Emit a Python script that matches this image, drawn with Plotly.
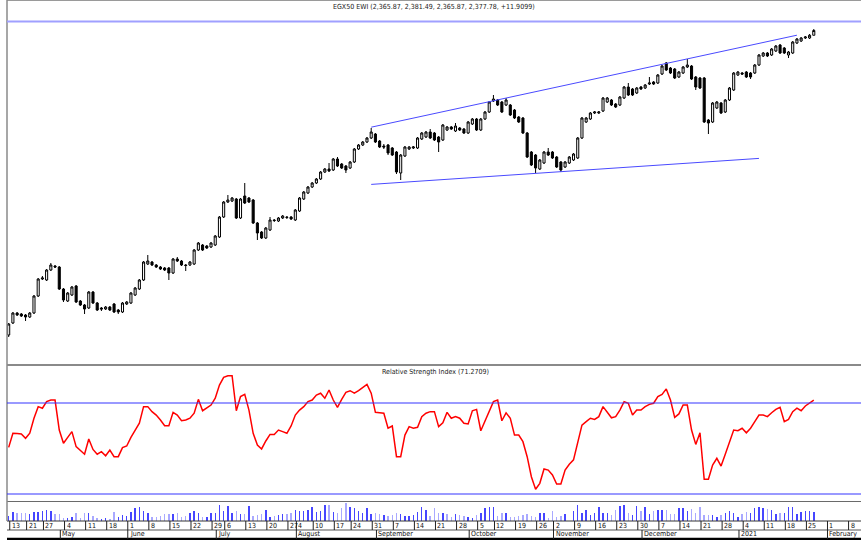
import numpy as np
import pandas as pd
import plotly.graph_objects as go

# ---------------- data ----------------
holidays = ["2020-04-17", "2020-04-20", "2020-05-25", "2020-05-26", "2020-05-27",
            "2020-05-28", "2020-05-29", "2020-06-30", "2020-07-03", "2020-07-29",
            "2020-07-30", "2020-07-31", "2020-08-03", "2020-08-20", "2020-10-06",
            "2020-10-29"]

opens = [
    1616.5, 1646.5, 1671.5, 1669, 1666.5, 1661.5, 1671.5, 1714, 1756.5, 1754,
    1779, 1789, 1786.5, 1731.5, 1701.5, 1716.5, 1739, 1701.5, 1691.5, 1684,
    1724, 1696.5, 1684, 1681.5, 1686.5, 1694, 1679, 1674, 1694, 1696.5,
    1716.5, 1731.5, 1754, 1794, 1799, 1791.5, 1786.5, 1784, 1784, 1771.5,
    1806.5, 1801.5, 1791.5, 1791.5, 1794, 1829, 1841.5, 1839, 1836.5, 1841.5,
    1861.5, 1911.5, 1949, 1951.5, 1956.5, 1909, 1964, 1959, 1954, 1896.5,
    1874, 1859, 1879, 1904, 1901.5, 1909, 1911.5, 1911.5, 1904, 1926.5,
    1956.5, 1971.5, 1986.5, 1996.5, 2006.5, 2024, 2031.5, 2029, 2056.5, 2044,
    2039, 2034, 2049, 2081.5, 2091.5, 2099, 2109, 2119, 2101.5, 2089,
    2091.5, 2084, 2074, 2021.5, 2064, 2081.5, 2084, 2084, 2106.5, 2111.5,
    2124, 2121.5, 2111.5, 2104, 2129, 2136.5, 2126.5, 2134, 2131.5, 2121.5,
    2144, 2156.5, 2129, 2156.5, 2174, 2201.5, 2204, 2199, 2191.5, 2191.5,
    2179, 2161.5, 2159, 2121.5, 2074, 2066.5, 2031.5, 2046.5, 2074, 2074,
    2061.5, 2049, 2036.5, 2046.5, 2054, 2059, 2109, 2149, 2156.5, 2171.5,
    2171.5, 2176.5, 2199, 2204, 2194, 2191.5, 2209, 2236.5, 2231.5, 2221.5,
    2236.5, 2234, 2244, 2249, 2246.5, 2269, 2296.5, 2284, 2281.5, 2261.5,
    2271.5, 2286.5, 2289, 2261.5, 2259, 2259, 2154, 2149, 2184, 2196.5,
    2174, 2204, 2229, 2266.5, 2271.5, 2274, 2271.5, 2271.5, 2291.5, 2314,
    2321.5, 2316.5, 2326.5, 2341.5, 2334, 2316.5, 2321.5, 2346.5, 2351.5, 2359,
    2359, 2365.87]

highs = [
    1646.5, 1674, 1674, 1671.5, 1669, 1674, 1716.5, 1759, 1764, 1781.5,
    1796.5, 1791.5, 1789, 1734, 1724, 1739, 1741.5, 1704, 1694, 1726.5,
    1726.5, 1699, 1686.5, 1689, 1689, 1696.5, 1681.5, 1699, 1701.5, 1724,
    1736.5, 1756.5, 1801.5, 1816.5, 1801.5, 1794, 1789, 1786.5, 1786.5, 1809,
    1811.5, 1804, 1794, 1801.5, 1831.5, 1849, 1844, 1841.5, 1849, 1866.5,
    1914, 1951.5, 1966.5, 1961.5, 1959, 1959, 1996.5, 1961.5, 1956.5, 1899,
    1876.5, 1886.5, 1911.5, 1906.5, 1911.5, 1916.5, 1914, 1914, 1931.5, 1961.5,
    1976.5, 1989, 1999, 2009, 2026.5, 2034, 2046.5, 2059, 2061.5, 2046.5,
    2041.5, 2051.5, 2084, 2094, 2101.5, 2111.5, 2134, 2121.5, 2104, 2094,
    2094, 2086.5, 2076.5, 2069, 2089, 2089, 2089, 2111.5, 2124, 2126.5,
    2131.5, 2124, 2114, 2144, 2139, 2139, 2146.5, 2136.5, 2134, 2151.5,
    2159, 2159, 2159, 2176.5, 2201.5, 2216.5, 2206.5, 2201.5, 2209, 2194,
    2181.5, 2164, 2161.5, 2124, 2076.5, 2069, 2056.5, 2076.5, 2084, 2076.5,
    2064, 2051.5, 2051.5, 2064, 2071.5, 2111.5, 2161.5, 2161.5, 2174, 2176.5,
    2176.5, 2211.5, 2211.5, 2206.5, 2196.5, 2214, 2239, 2246.5, 2234, 2236.5,
    2239, 2244, 2261.5, 2251.5, 2269, 2291.5, 2299, 2286.5, 2284, 2276.5,
    2289, 2306.5, 2291.5, 2264, 2261.5, 2261.5, 2156.5, 2199, 2201.5, 2199,
    2206.5, 2236.5, 2274, 2276.5, 2274, 2276.5, 2274, 2294, 2319, 2324,
    2324, 2334, 2341.5, 2344, 2336.5, 2326.5, 2351.5, 2359, 2361.5, 2364,
    2369, 2381.49]

lows = [
    1611.5, 1644, 1664, 1661.5, 1651.5, 1659, 1669, 1711.5, 1754, 1751.5,
    1776.5, 1784, 1729, 1699, 1699, 1714, 1696.5, 1689, 1669, 1681.5,
    1694, 1676.5, 1676.5, 1679, 1676.5, 1671.5, 1669, 1671.5, 1691.5, 1694,
    1714, 1729, 1751.5, 1791.5, 1789, 1784, 1779, 1776.5, 1754, 1769,
    1799, 1789, 1776.5, 1789, 1791.5, 1826.5, 1826.5, 1831.5, 1834, 1839,
    1859, 1909, 1946.5, 1949, 1906.5, 1906.5, 1944, 1946.5, 1894, 1854,
    1856.5, 1856.5, 1876.5, 1899, 1899, 1906.5, 1906.5, 1904, 1901.5, 1924,
    1954, 1969, 1984, 1994, 2004, 2021.5, 2024, 2026.5, 2036.5, 2031.5,
    2021.5, 2031.5, 2046.5, 2079, 2089, 2096.5, 2106.5, 2096.5, 2084, 2081.5,
    2066.5, 2064, 2019, 2004, 2061.5, 2079, 2081.5, 2081.5, 2104, 2109,
    2106.5, 2101.5, 2074, 2101.5, 2126.5, 2129, 2124, 2126.5, 2119, 2119,
    2141.5, 2126.5, 2126.5, 2154, 2171.5, 2199, 2189, 2171.5, 2189, 2164,
    2156.5, 2146.5, 2119, 2059, 2039, 2021.5, 2029, 2044, 2064, 2056.5,
    2034, 2024, 2034, 2044, 2051.5, 2056.5, 2106.5, 2146.5, 2154, 2169,
    2169, 2174, 2196.5, 2189, 2184, 2189, 2206.5, 2214, 2214, 2219,
    2229, 2231.5, 2241.5, 2241.5, 2244, 2266.5, 2276.5, 2269, 2256.5, 2259,
    2269, 2284, 2254, 2229, 2231.5, 2146.5, 2119, 2146.5, 2181.5, 2169,
    2171.5, 2201.5, 2226.5, 2264, 2266.5, 2259, 2256.5, 2269, 2289, 2311.5,
    2311.5, 2314, 2324, 2319, 2319, 2309, 2319, 2344, 2349, 2356.5,
    2356.5, 2365.87]

closes = [
    1644, 1671.5, 1666.5, 1664, 1661.5, 1671.5, 1714, 1756.5, 1759, 1779,
    1791.5, 1786.5, 1731.5, 1704, 1721.5, 1736.5, 1699, 1691.5, 1681.5, 1724,
    1696.5, 1679, 1681.5, 1686.5, 1679, 1674, 1674, 1696.5, 1699, 1721.5,
    1734, 1754, 1799, 1801.5, 1791.5, 1786.5, 1781.5, 1779, 1771.5, 1806.5,
    1801.5, 1791.5, 1790.25, 1799, 1829, 1846.5, 1829, 1834, 1846.5, 1864,
    1911.5, 1949, 1954, 1959, 1909, 1956.5, 1946.5, 1949, 1896.5, 1871.5,
    1859, 1884, 1904, 1902.75, 1909, 1914, 1910.25, 1906.5, 1929, 1959,
    1974, 1986.5, 1996.5, 2006.5, 2024, 2031.5, 2026.5, 2056.5, 2039, 2034,
    2029, 2049, 2081.5, 2091.5, 2099, 2109, 2124, 2099, 2086.5, 2086.5,
    2071.5, 2066.5, 2024, 2066.5, 2086.5, 2086.5, 2086.5, 2109, 2121.5, 2124,
    2109, 2104, 2099, 2141.5, 2136.5, 2131.5, 2139, 2129, 2121.5, 2149,
    2156.5, 2129, 2156.5, 2174, 2199, 2206.5, 2191.5, 2174, 2204, 2166.5,
    2159, 2149, 2121.5, 2061.5, 2041.5, 2034, 2054, 2074, 2066.5, 2059,
    2036.5, 2029, 2049, 2061.5, 2069, 2109, 2159, 2159, 2171.5, 2174,
    2174, 2209, 2209, 2191.5, 2186.5, 2211.5, 2236.5, 2216.5, 2216.5, 2234,
    2231.5, 2241.5, 2246.5, 2244, 2266.5, 2289, 2279, 2271.5, 2259, 2274,
    2286.5, 2291.5, 2256.5, 2236.5, 2234, 2149, 2146.5, 2196.5, 2199, 2171.5,
    2204, 2234, 2271.5, 2274, 2269, 2261.5, 2261.5, 2291.5, 2316.5, 2321.5,
    2314, 2331.5, 2339, 2321.5, 2321.5, 2324, 2349, 2356.5, 2359, 2361.5,
    2365.87, 2377.78]

rsi = [
    50.5, 56.7, 56.6, 56.4, 54.5, 56.7, 63.3, 68.4, 67.7, 70.6,
    71.3, 71.3, 58.1, 52.3, 54.9, 57.4, 50.8, 49.0, 47.5, 54.2,
    49.6, 47.5, 48.6, 46.8, 49.3, 46.4, 46.4, 50.4, 51.1, 54.9,
    57.7, 61.1, 68.4, 68.4, 66.2, 64.7, 62.5, 60.0, 60.0, 65.9,
    64.7, 62.2, 62.5, 63.3, 65.5, 71.6, 66.6, 67.9, 69.1, 72.1,
    77.9, 81.3, 82.0, 82.0, 66.6, 72.8, 73.8, 66.9, 56.7, 51.5,
    49.8, 53.3, 56.2, 56.2, 58.1, 57.4, 56.7, 59.9, 64.7, 66.9,
    68.4, 70.6, 71.3, 73.5, 74.3, 72.1, 75.7, 71.3, 68.1, 71.6,
    74.7, 75.4, 74.3, 75.4, 76.9, 78.2, 74.3, 65.9, 65.7, 65.5,
    58.9, 59.9, 46.4, 46.4, 55.9, 59.6, 58.9, 59.3, 64.0, 65.5,
    66.2, 66.2, 59.6, 61.3, 65.9, 63.3, 64.0, 63.3, 61.1, 60.8,
    66.6, 67.2, 57.8, 61.8, 66.2, 70.6, 71.3, 62.2, 65.7, 63.3,
    55.9, 55.9, 53.0, 46.4, 37.6, 32.1, 34.7, 41.0, 40.5, 38.4,
    34.4, 34.4, 40.5, 43.1, 45.0, 53.0, 60.3, 61.8, 63.3, 62.8,
    64.0, 68.4, 65.7, 63.5, 64.0, 66.9, 70.6, 69.9, 64.7, 66.9,
    66.9, 68.4, 69.4, 69.9, 72.8, 73.8, 76.2, 71.3, 63.7, 65.2,
    69.1, 69.1, 58.1, 51.8, 56.9, 36.5, 36.5, 42.7, 45.7, 42.3,
    47.5, 53.0, 58.1, 57.8, 58.9, 56.9, 58.9, 61.8, 64.7, 64.7,
    64.0, 65.7, 67.2, 68.1, 61.8, 62.8, 66.2, 67.7, 66.6, 68.7,
    69.9, 71.2709]

volume = [
    50, 90, 77, 77, 77, 70, 87, 93, 103, 110,
    103, 70, 70, 27, 27, 43, 77, 27, 77, 77,
    50, 27, 17, 27, 17, 87, 37, 60, 50, 90,
    127, 143, 103, 83, 43, 43, 50, 70, 70, 70,
    77, 37, 50, 83, 103, 77, 37, 43, 77, 77,
    160, 103, 150, 77, 103, 70, 70, 150, 50, 60,
    70, 110, 43, 50, 60, 70, 70, 77, 110, 103,
    103, 110, 137, 93, 103, 160, 160, 93, 77, 127,
    177, 143, 127, 103, 77, 127, 67, 77, 70, 60,
    50, 60, 77, 70, 50, 50, 60, 93, 143, 110,
    50, 127, 83, 77, 70, 43, 70, 60, 50, 43,
    27, 60, 77, 127, 143, 137, 50, 83, 77, 43,
    43, 50, 60, 70, 50, 43, 83, 83, 27, 103,
    43, 50, 70, 5, 103, 160, 83, 110, 60, 83,
    143, 83, 83, 60, 110, 150, 160, 83, 60, 150,
    103, 137, 70, 103, 110, 110, 110, 70, 70, 127,
    127, 103, 117, 77, 143, 60, 60, 60, 37, 60,
    83, 103, 77, 43, 70, 93, 83, 127, 137, 127,
    117, 110, 70, 83, 83, 137, 137, 70, 93, 103,
    103, 93]

# trendline anchors: (bar, price, bar, price)
upper_trend = [86, 2136, 187, 2366]
lower_trend = [86, 1993, 178, 2058]
resistance_level = 2400
rsi_levels = [70, 30]

title_text = "EGX50 EWI (2,365.87, 2,381.49, 2,365.87, 2,377.78, +11.9099)"
rsi_title = "Relative Strength Index (71.2709)"

# ---------------- build ----------------
n = len(closes)
x = np.arange(n)
cal = pd.bdate_range("2020-04-13", "2021-02-12", freq="C", holidays=holidays)

W, H = 861, 540
L_MARGIN = 7


def py(px):
    return 1 - px / H


XMIN, XMAX = -0.4, 202.2

vol_colors = ["#4646ff" if (i == 0 or closes[i] >= closes[i - 1]) else "#a9a9ff"
              for i in range(n)]

fig = go.Figure()
fig.add_trace(go.Candlestick(
    x=x, open=opens, high=highs, low=lows, close=closes,
    increasing=dict(line=dict(color="#000000", width=1), fillcolor="#ffffff"),
    decreasing=dict(line=dict(color="#000000", width=1), fillcolor="#000000"),
    whiskerwidth=0, xaxis="x", yaxis="y", showlegend=False, hoverinfo="skip"))
fig.add_trace(go.Scatter(
    x=x, y=rsi, mode="lines", line=dict(color="#ff0000", width=1.5),
    xaxis="x", yaxis="y2", showlegend=False, hoverinfo="skip"))
fig.add_trace(go.Bar(
    x=x, y=volume, marker=dict(color=vol_colors, line=dict(width=0)), width=0.34,
    xaxis="x", yaxis="y3", showlegend=False, hoverinfo="skip"))

shapes = []


def hline_paper(px, color, width):
    shapes.append(dict(type="line", xref="paper", yref="paper", x0=0, x1=1,
                       y0=py(px), y1=py(px), line=dict(color=color, width=width)))


# frame lines
hline_paper(0.5, "#9a9a9a", 1)
hline_paper(365, "#8a8a8a", 2)
hline_paper(501.5, "#6a6a6a", 1)
hline_paper(521, "#333333", 1)
hline_paper(530, "#555555", 1)
hline_paper(539, "#000000", 2.5)
shapes.append(dict(type="line", xref="paper", yref="paper", x0=0, x1=0,
                   y0=py(521), y1=1, line=dict(color="#8a8a8a", width=1.5)))

# horizontal level lines
shapes.append(dict(type="line", xref="paper", yref="y", x0=0, x1=1,
                   y0=resistance_level, y1=resistance_level,
                   line=dict(color="#a0a0ff", width=2)))
for lv in rsi_levels:
    shapes.append(dict(type="line", xref="paper", yref="y2", x0=0, x1=1,
                       y0=lv, y1=lv, line=dict(color="#3535ff", width=1.2)))

# trendlines
for tl in (upper_trend, lower_trend):
    shapes.append(dict(type="line", xref="x", yref="y", x0=tl[0], y0=tl[1],
                       x1=tl[2], y1=tl[3], line=dict(color="#4a4aff", width=1)))

annotations = []
FONT = "Liberation Sans Narrow, DejaVu Sans Condensed, Arial Narrow, Liberation Sans, sans-serif"

# weekly day ticks
s = pd.Series(np.arange(len(cal)), index=cal)
week_first = s.groupby(cal.to_period("W-SUN")).min()
for idx in week_first.values:
    if idx > XMAX - 0.5:
        continue
    xp = idx + 0.25
    shapes.append(dict(type="line", xref="x", yref="paper", x0=xp, x1=xp,
                       y0=py(530), y1=py(521), line=dict(color="#222222", width=1)))
    annotations.append(dict(x=xp, y=py(525.7), xref="x", yref="paper",
                            text=str(cal[idx].day), showarrow=False,
                            xanchor="left", yanchor="middle",
                            font=dict(size=7, color="#111111", family=FONT)))

# month labels
month_first = s.groupby(cal.to_period("M")).min()
for idx in month_first.values:
    if idx <= 0 or idx > XMAX - 0.5:
        continue
    d = cal[idx]
    label = str(d.year) if d.month == 1 else d.strftime("%B")
    xp = idx + 0.25
    shapes.append(dict(type="line", xref="x", yref="paper", x0=xp, x1=xp,
                       y0=py(539), y1=py(530), line=dict(color="#222222", width=1)))
    annotations.append(dict(x=xp, y=py(534.4), xref="x", yref="paper",
                            text=label, showarrow=False,
                            xanchor="left", yanchor="middle",
                            font=dict(size=7, color="#111111", family=FONT)))

# titles
annotations.append(dict(x=(434 - L_MARGIN) / (W - L_MARGIN), y=py(7), xref="paper",
                        yref="paper", text=title_text, showarrow=False,
                        xanchor="center", yanchor="middle",
                        font=dict(size=7, color="#1a1a1a", family=FONT)))
annotations.append(dict(x=(435.5 - L_MARGIN) / (W - L_MARGIN), y=py(371.5),
                        xref="paper", yref="paper", text=rsi_title,
                        showarrow=False, xanchor="center", yanchor="middle",
                        font=dict(size=7, color="#1a1a1a", family=FONT)))

axis_off = dict(showgrid=False, zeroline=False, showticklabels=False,
                showline=False, ticks="", fixedrange=True)

fig.update_layout(
    width=W, height=H,
    margin=dict(l=L_MARGIN, r=0, t=0, b=0, pad=0),
    paper_bgcolor="#ffffff", plot_bgcolor="#ffffff",
    showlegend=False, hovermode=False, bargap=0,
    xaxis=dict(domain=[0, 1], range=[XMIN, XMAX], rangeslider=dict(visible=False),
               anchor="y3", **axis_off),
    yaxis=dict(domain=[py(365), 1], range=[1541.5, 2454], anchor="x", **axis_off),
    yaxis2=dict(domain=[py(501.7), py(365)], range=[26.62, 86.70], anchor="x",
                **axis_off),
    yaxis3=dict(domain=[py(521), py(501.7)], range=[0, 193], anchor="x", **axis_off),
    shapes=shapes,
    annotations=annotations,
)

fig.write_html(
    "out.html",
    config={"displayModeBar": False, "staticPlot": True},
    post_script="document.body.style.margin='0';document.body.style.padding='0';"
                "document.body.style.overflow='hidden';",
)
